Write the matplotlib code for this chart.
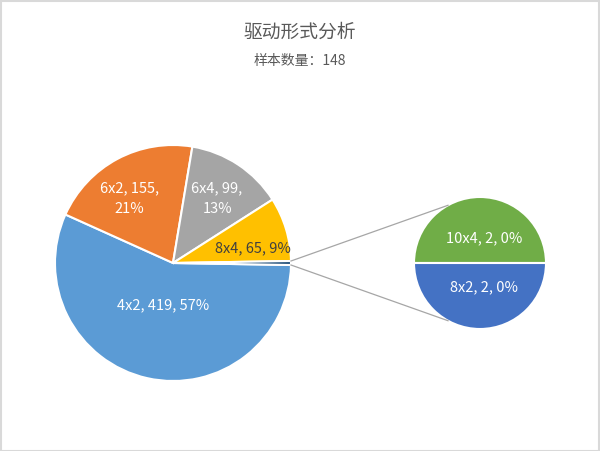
import numpy as np
import matplotlib.pyplot as plt
from matplotlib.patches import Rectangle

plt.rcParams['font.family'] = ['Noto Sans CJK SC', 'DejaVu Sans']

# main pie data
main_names = ['4x2', '6x2', '6x4', '8x4']
main_values = [419, 155, 99, 65]
main_pcts = [57, 21, 13, 9]
main_colors = ['#5B9BD5', '#ED7D31', '#A5A5A5', '#FFC000']

# secondary pie ("other") data
sub_names = ['10x4', '8x2']
sub_values = [2, 2]
sub_pcts = [0, 0]
sub_colors = ['#70AD47', '#4472C4']
other_color = '#1F4E79'

title = '驱动形式分析'
subtitle = '样本数量：148'

W, H = 600, 451
fig = plt.figure(figsize=(6, 4.51), dpi=100)
ax = fig.add_axes([0, 0, 1, 1])

total = sum(main_values) + sum(sub_values)
other = sum(sub_values)
other_ang = other / total * 360

c1 = (173, H - 263)
r1 = 118
c2 = (480, H - 263)
r2 = 66

vals = main_values + [other]
cols = main_colors + [other_color]
ax.pie(vals, colors=cols, center=c1, radius=r1, startangle=-other_ang / 2,
       counterclock=False, wedgeprops=dict(edgecolor='white', linewidth=1.5))
ax.pie(sub_values, colors=sub_colors, center=c2, radius=r2, startangle=180,
       counterclock=False, wedgeprops=dict(edgecolor='white', linewidth=1.5))

def label(name, v, pct, wrap=False):
    if wrap:
        return '%s, %d,\n%d%%' % (name, v, pct)
    return '%s, %d, %d%%' % (name, v, pct)

# main labels
fracs = [0.37, 0.66, 0.66, 0.69]
shifts = [0, 6, -1, -6]
wraps = [False, True, True, False]
txtcols = ['white', 'white', 'white', '#404040']
a = -other_ang / 2
for name, v, p, f, sh, w, tc in zip(main_names, main_values, main_pcts, fracs,
                                    shifts, wraps, txtcols):
    span = v / total * 360
    mid = np.radians(a - span / 2 + sh)
    a -= span
    ax.text(c1[0] + f * r1 * np.cos(mid), c1[1] + f * r1 * np.sin(mid),
            label(name, v, p, w), ha='center', va='center', color=tc,
            fontsize=10.5, linespacing=1.6)

# secondary labels
a = 180
for name, v, p in zip(sub_names, sub_values, sub_pcts):
    span = v / sum(sub_values) * 360
    mid = np.radians(a - span / 2)
    a -= span
    ax.text(c2[0] + 4 + 0.37 * r2 * np.cos(mid), c2[1] + 0.37 * r2 * np.sin(mid),
            label(name, v, p), ha='center', va='center', color='white', fontsize=10.5)

# connector lines
for s in [1, -1]:
    p0 = (c1[0] + r1 * np.cos(np.radians(s * other_ang / 2)),
          c1[1] + r1 * np.sin(np.radians(s * other_ang / 2)))
    p1 = (c2[0] + r2 * np.cos(np.radians(s * 119)),
          c2[1] + r2 * np.sin(np.radians(s * 119)))
    ax.plot([p0[0], p1[0]], [p0[1], p1[1]], color='#A6A6A6', linewidth=0.9)

ax.set_xlim(0, W)
ax.set_ylim(0, H)
ax.set_aspect('auto')
ax.axis('off')

fig.text(0.5, 1 - 32 / H, title, ha='center', va='center', fontsize=13.5, color='#595959')
fig.text(0.5, 1 - 61 / H, subtitle, ha='center', va='center', fontsize=10, color='#595959')

fig.patches.append(Rectangle((0.5 / W, 0.5 / H), 1 - 1.5 / W, 1 - 1.5 / H,
                             transform=fig.transFigure, fill=False,
                             edgecolor='#D9D9D9', linewidth=1.5))

fig.savefig('out.png', dpi=100)
